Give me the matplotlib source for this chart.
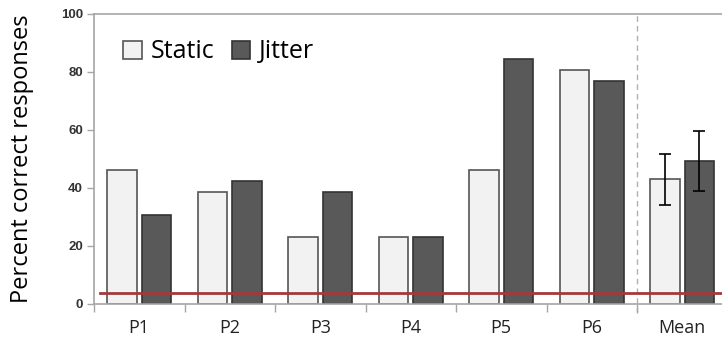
import numpy as np
import matplotlib.pyplot as plt
from matplotlib.patches import Patch

groups = ["P1", "P2", "P3", "P4", "P5", "P6", "Mean"]
static = [46.2, 38.5, 23.1, 23.1, 46.2, 80.8, 43.0]
jitter = [30.8, 42.3, 38.5, 23.1, 84.6, 76.9, 49.4]
static_err = [0, 0, 0, 0, 0, 0, 8.8]
jitter_err = [0, 0, 0, 0, 0, 0, 10.3]
chance = 3.85

plt.rcParams['font.family'] = ['Open Sans', 'DejaVu Sans']

fig = plt.figure(figsize=(7.22, 3.46), dpi=100)
ax = fig.add_axes([94 / 722, 42 / 346, 633.5 / 722, 290 / 346])

x = np.arange(len(groups))
w = 0.33
off = 0.19
spine_col = '#a6a6a6'

ax.bar(x - off, static, w, color='#f2f2f2', edgecolor='#555555', linewidth=1.2, zorder=2)
ax.bar(x + off, jitter, w, color='#595959', edgecolor='#333333', linewidth=1.2, zorder=2)

# error bars only on the mean group
m = len(groups) - 1
ax.errorbar(x[m] - off, static[m], yerr=static_err[m], fmt='none', ecolor='black',
            elinewidth=1.2, capsize=4, capthick=1.2, zorder=3)
ax.errorbar(x[m] + off, jitter[m], yerr=jitter_err[m], fmt='none', ecolor='black',
            elinewidth=1.2, capsize=4, capthick=1.2, zorder=3)

# chance level
ax.plot([-0.43, len(groups) - 0.5], [chance, chance], color='#a33a3a', linewidth=2, zorder=4)

# separator before the mean
ax.plot([m - 0.5, m - 0.5], [-3, 100], color='#b0b0b0', linestyle=(0, (4, 3)),
        linewidth=1, clip_on=False, zorder=1)

ax.set_xlim(-0.5, len(groups) - 0.5)
ax.set_ylim(0, 100)
ax.set_yticks([0, 20, 40, 60, 80, 100])
ax.set_xticks(x)
ax.set_xticklabels(groups, fontsize=13, color='#222222')
ax.tick_params(axis='x', length=0, pad=11)
ax.set_xticks(np.arange(len(groups)) - 0.5, minor=True)
ax.tick_params(axis='x', which='minor', length=6, color=spine_col, width=1)
ax.tick_params(axis='y', length=5, color=spine_col, width=1, labelsize=9.5,
               labelcolor='#333333', pad=3)
for lab in ax.get_yticklabels():
    lab.set_family(['Liberation Sans', 'DejaVu Sans'])
    lab.set_fontweight('bold')

for s in ['left', 'bottom', 'top']:
    ax.spines[s].set_color(spine_col)
    ax.spines[s].set_linewidth(1.2)
ax.spines['right'].set_visible(False)

ax.set_ylabel("Percent correct responses", fontsize=17, color='black', labelpad=19)

handles = [Patch(facecolor='#f2f2f2', edgecolor='#555555', linewidth=1.2),
           Patch(facecolor='#595959', edgecolor='#333333', linewidth=1.2)]
ax.legend(handles, ["Static", "Jitter"], loc='upper left', bbox_to_anchor=(0.01, 0.99),
          ncol=2, frameon=False, fontsize=18, handlelength=0.75, handleheight=0.75,
          handletextpad=0.35, columnspacing=0.7)

fig.savefig("out.png", dpi=100)
